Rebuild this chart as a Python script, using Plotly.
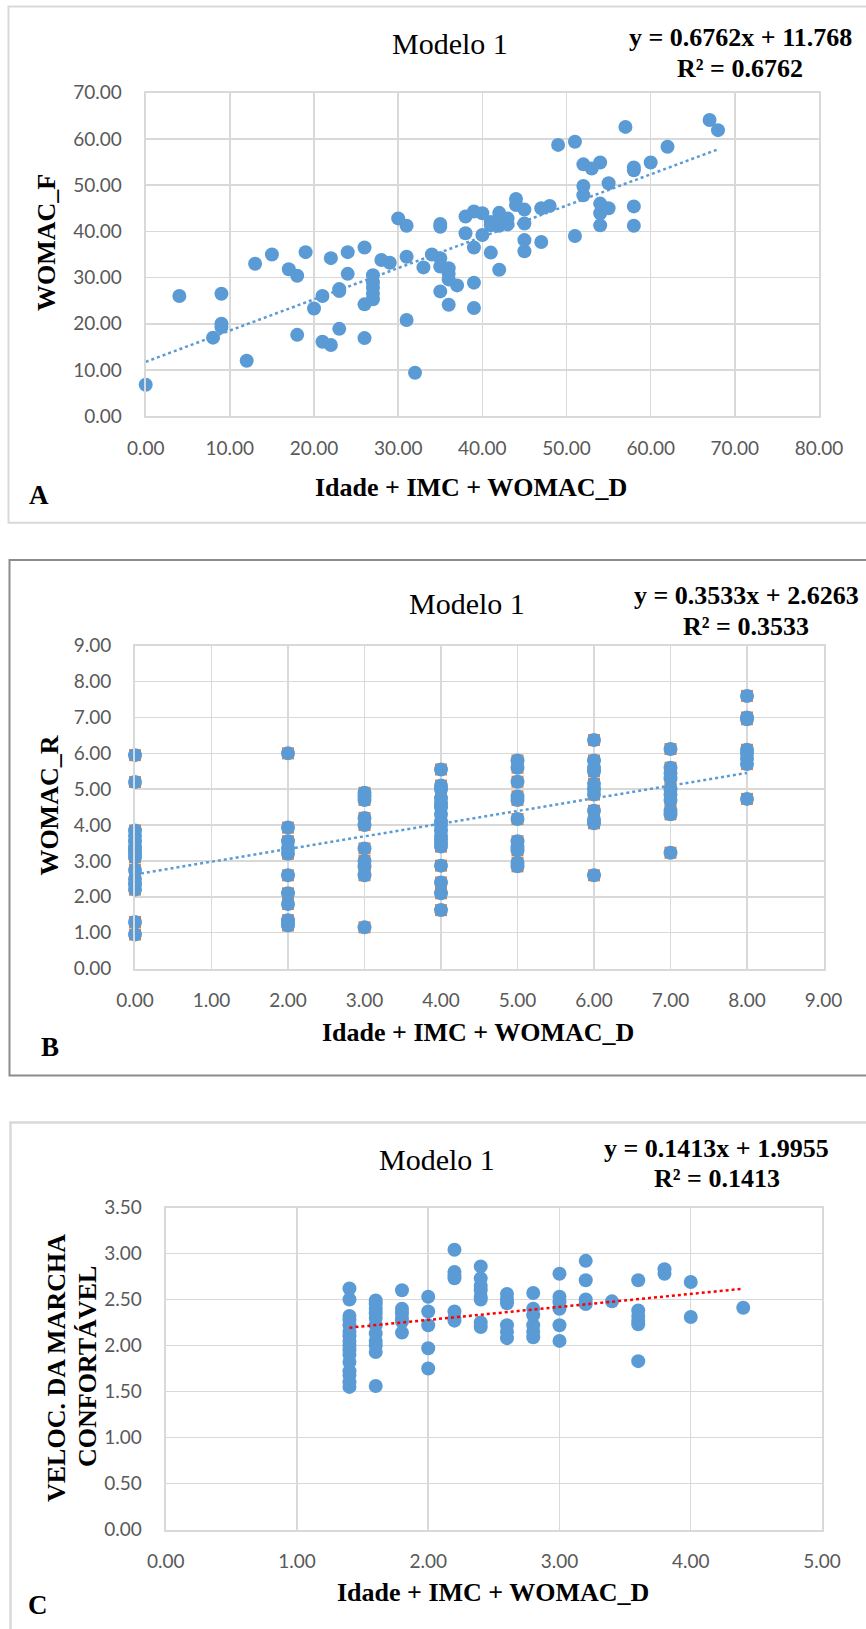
import plotly.graph_objects as go

W, H = 866, 1629

# ---------------- data ----------------
# Panel A
a_x = [0, 4, 8, 9, 9, 9, 12, 13, 15, 17, 18, 18, 19, 20, 21, 21, 22, 22, 23, 23, 23, 24, 24,
       26, 26, 26, 27, 27, 27, 27, 27, 28, 29, 30, 31, 31, 31, 32, 33, 34, 35, 35, 35, 35, 35,
       36, 36, 36, 36, 37, 38, 38, 39, 39, 39, 39, 40, 40, 41, 41, 41, 42, 42, 42, 42, 42, 43, 43,
       44, 44, 45, 45, 45, 45, 47, 47, 48, 49, 51, 51, 52, 52, 52, 53, 54, 54, 54, 54, 55, 55,
       57, 58, 58, 58, 58, 60, 62, 67, 68]
a_y = [6.8, 26, 17, 26.5, 20, 19.3, 12, 33, 35, 31.8, 30.4, 17.6, 35.5, 23.3, 26, 16.1, 15.4, 34.2,
       27.5, 27.1, 18.9, 35.5, 30.8, 36.5, 24.2, 16.9, 30.5, 29, 27.8, 26.5, 25.3, 33.8, 33.2, 42.8,
       41.2, 34.5, 20.8, 9.4, 32.2, 35, 41.6, 41, 34.2, 32.4, 27, 32, 30.8, 29.6, 24.1, 28.3, 43.2,
       39.6, 44.3, 36.5, 28.9, 23.4, 43.9, 39.2, 35.4, 42, 41.3, 44, 42.5, 41.8, 41.2, 31.7, 42.8,
       41.5, 47, 45.7, 44.7, 41.7, 38.1, 35.7, 45, 37.7, 45.5, 58.7, 59.4, 39, 54.5, 49.8, 47.8,
       53.6, 54.9, 46, 43.9, 41.3, 50.4, 45, 62.6, 53.8, 53.2, 45.4, 41.2, 54.9, 58.3, 64.1, 61.9]
a_slope, a_intercept = 0.6762, 11.768
a_fit_x = [0, 68]

# Panel B
b_x = ([0] * 15 + [2] * 11 + [3] * 10 + [4] * 18 + [5] * 11 + [6] * 11 + [7] * 10 + [8] * 8)
b_y = [5.95, 5.2, 3.85, 3.7, 3.55, 3.4, 3.3, 3.2, 3.1, 2.75, 2.5, 2.35, 2.2, 1.3, 0.95,
       6.0, 3.93, 3.55, 3.35, 3.2, 2.6, 2.1, 1.8, 1.35, 1.25, 1.2,
       4.9, 4.8, 4.7, 4.2, 4.0, 3.35, 3.0, 2.85, 2.6, 1.15,
       5.55, 5.1, 5.0, 4.75, 4.6, 4.5, 4.3, 4.1, 4.0, 3.85, 3.7, 3.6, 3.5, 3.4, 2.87, 2.4, 2.1, 1.63,
       5.8, 5.6, 5.21, 4.8, 4.7, 4.17, 3.55, 3.4, 3.3, 2.95, 2.85,
       6.37, 5.8, 5.6, 5.5, 5.15, 5.0, 4.85, 4.4, 4.15, 4.05, 2.6,
       6.12, 5.6, 5.45, 5.3, 5.0, 4.85, 4.7, 4.4, 4.3, 3.23,
       7.6, 7.0, 6.95, 6.1, 6.0, 5.85, 5.7, 4.73]
b_slope, b_intercept = 0.3533, 2.6263
b_fit_x = [0, 8]

# Panel C
c_x = ([1.4] * 16 + [1.6] * 11 + [1.8] * 6 + [2.0] * 5 + [2.2] * 7 + [2.4] * 8 + [2.6] * 6 +
       [2.8] * 6 + [3.0] * 6 + [3.2] * 4 + [3.4] * 1 + [3.6] * 6 + [3.8] * 2 + [4.0] * 2 + [4.4] * 1)
c_y = [2.62, 2.50, 2.32, 2.28, 2.22, 2.15, 2.10, 2.05, 2.00, 1.95, 1.90, 1.82, 1.72, 1.68, 1.60, 1.55,
       2.49, 2.45, 2.40, 2.35, 2.30, 2.22, 2.13, 2.05, 2.00, 1.93, 1.56,
       2.60, 2.40, 2.35, 2.30, 2.26, 2.14,
       2.53, 2.37, 2.22, 1.97, 1.75,
       3.04, 2.80, 2.76, 2.73, 2.37, 2.30, 2.27,
       2.86, 2.73, 2.65, 2.60, 2.53, 2.50, 2.25, 2.20,
       2.56, 2.50, 2.46, 2.22, 2.15, 2.08,
       2.57, 2.40, 2.33, 2.22, 2.15, 2.09,
       2.78, 2.53, 2.47, 2.40, 2.22, 2.05,
       2.92, 2.71, 2.50, 2.45,
       2.48,
       2.71, 2.38, 2.32, 2.27, 2.23, 1.83,
       2.83, 2.78,
       2.69, 2.31,
       2.41]
c_slope, c_intercept = 0.1413, 1.9955
c_fit_x = [1.4, 4.4]

titles = ["Modelo 1", "Modelo 1", "Modelo 1"]
equations = ["y = 0.6762x + 11.768", "y = 0.3533x + 2.6263", "y = 0.1413x + 1.9955"]
r2_labels = ["R² = 0.6762", "R² = 0.3533", "R² = 0.1413"]
x_title = "Idade + IMC + WOMAC_D"
y_titles = ["WOMAC_F", "WOMAC_R", "VELOC. DA MARCHA", "CONFORTÁVEL"]
panel_letters = ["A", "B", "C"]

# ---------------- styling ----------------
BLUE = "#5B9BD5"
ORANGE = "#ED7D31"
RED = "#FF0000"
GRID = "#D9D9D9"
TICK = "#595959"
SERIF = "Liberation Serif, Times New Roman, serif"
SANS = "Lato, Carlito, Calibri, sans-serif"


def px(x):
    return x / W


def py(y):
    return 1 - y / H


fig = go.Figure()

# plot areas in pixels: (left, right, top, bottom)
areas = [(145.7, 819.0, 92.7, 416.2),
         (135.0, 823.5, 645.7, 968.6),
         (165.7, 822.0, 1207.5, 1529.5)]
ranges = [((0, 80), 10, (0, 70), 10),
          ((0, 9), 1, (0, 9), 1),
          ((0, 5), 1, (0, 3.5), 0.5)]

datasets = [(a_x, a_y, a_slope, a_intercept, a_fit_x, BLUE),
            (b_x, b_y, b_slope, b_intercept, b_fit_x, BLUE),
            (c_x, c_y, c_slope, c_intercept, c_fit_x, RED)]

for i, (xs, ys, sl, ic, fx, tcol) in enumerate(datasets):
    xa = "x" if i == 0 else f"x{i+1}"
    ya = "y" if i == 0 else f"y{i+1}"
    if i == 1:
        fig.add_trace(go.Scatter(x=xs, y=ys, mode="markers", xaxis=xa, yaxis=ya,
                                 marker=dict(symbol="square", size=12, color=ORANGE, line=dict(width=0)),
                                 cliponaxis=False, showlegend=False, hoverinfo="skip"))
    fig.add_trace(go.Scatter(x=xs, y=ys, mode="markers", xaxis=xa, yaxis=ya,
                             marker=dict(symbol="circle", size=14, color=BLUE, line=dict(width=0)),
                             cliponaxis=False, showlegend=False))
    fy = [sl * v + ic for v in fx]
    fig.add_trace(go.Scatter(x=fx, y=fy, mode="lines", xaxis=xa, yaxis=ya,
                             line=dict(color=tcol, width=2.5, dash="dot"),
                             cliponaxis=False, showlegend=False, hoverinfo="skip"))

layout = dict(width=W, height=H, autosize=False,
              margin=dict(l=0, r=0, t=0, b=0, pad=0, autoexpand=False),
              paper_bgcolor="white", plot_bgcolor="white", showlegend=False)

for i, ((l, r, t, b), (xr, xd, yr, yd)) in enumerate(zip(areas, ranges)):
    xk = "xaxis" if i == 0 else f"xaxis{i+1}"
    yk = "yaxis" if i == 0 else f"yaxis{i+1}"
    anchor_x = "y" if i == 0 else f"y{i+1}"
    anchor_y = "x" if i == 0 else f"x{i+1}"
    layout[xk] = dict(domain=[px(l), px(r)], range=list(xr), dtick=xd, tick0=0, anchor=anchor_x,
                      showgrid=True, gridcolor=GRID, gridwidth=1.5, zeroline=False,
                      showline=True, linecolor=GRID, linewidth=2, mirror=True, automargin=False,
                      tickformat=".2f", ticks="", ticklabelstandoff=14,
                      tickfont=dict(family=SANS, size=19, color=TICK), fixedrange=True)
    layout[yk] = dict(domain=[py(b), py(t)], range=list(yr), dtick=yd, tick0=0, anchor=anchor_y,
                      showgrid=True, gridcolor=GRID, gridwidth=1.5, zeroline=False,
                      showline=True, linecolor=GRID, linewidth=2, mirror=True, automargin=False,
                      tickformat=".2f", ticks="", ticklabelstandoff=18,
                      tickfont=dict(family=SANS, size=19, color=TICK), fixedrange=True)

fig.update_layout(**layout)

# frames around panels
frames = [(8.5, 6.5, 522.7, GRID, 2),
          (9.5, 560.0, 1075.5, "#8C8C8C", 2),
          (10.5, 1122.5, 1640, GRID, 2.5)]
for (x0, y0, y1, col, lw) in frames:
    fig.add_shape(type="rect", xref="paper", yref="paper",
                  x0=px(x0), x1=px(880), y0=py(y1), y1=py(y0),
                  line=dict(color=col, width=lw), fillcolor="rgba(0,0,0,0)", layer="below")

# text positions (pixels)
title_pos = [(450, 43), (467, 604), (436.5, 1159)]
eq_pos = [(740, 37), (746.5, 596), (716, 1148.5)]
r2_pos = [(740, 68), (746, 626), (716.5, 1178.5)]
xt_pos = [(471, 487), (478.5, 1032), (493, 1592)]
yt_pos = [(47, 243), (48.6, 806), (56, 1368), (87, 1367)]
letter_pos = [(39, 495), (49.7, 1047), (38, 1605)]

ann = []
for i in range(3):
    ann.append(dict(text=titles[i], x=px(title_pos[i][0]), y=py(title_pos[i][1]),
                    font=dict(family=SERIF, size=30, color="black")))
    ann.append(dict(text="<b>" + equations[i] + "</b>", x=px(eq_pos[i][0]), y=py(eq_pos[i][1]),
                    font=dict(family=SERIF, size=26, color="black")))
    ann.append(dict(text="<b>" + r2_labels[i] + "</b>", x=px(r2_pos[i][0]), y=py(r2_pos[i][1]),
                    font=dict(family=SERIF, size=26, color="black")))
    ann.append(dict(text="<b>" + x_title + "</b>", x=px(xt_pos[i][0]), y=py(xt_pos[i][1]),
                    font=dict(family=SERIF, size=26, color="black")))
    ann.append(dict(text="<b>" + panel_letters[i] + "</b>", x=px(letter_pos[i][0]), y=py(letter_pos[i][1]),
                    font=dict(family=SERIF, size=27, color="black")))
for j in range(4):
    ann.append(dict(text="<b>" + y_titles[j] + "</b>", x=px(yt_pos[j][0]), y=py(yt_pos[j][1]),
                    textangle=-90, font=dict(family=SERIF, size=26, color="black")))
for a in ann:
    a.update(xref="paper", yref="paper", xanchor="center", yanchor="middle", showarrow=False)
fig.update_layout(annotations=ann)

fig.write_html("out.html", include_plotlyjs=True, config={"staticPlot": True},
               post_script="document.body.style.margin='0';")
